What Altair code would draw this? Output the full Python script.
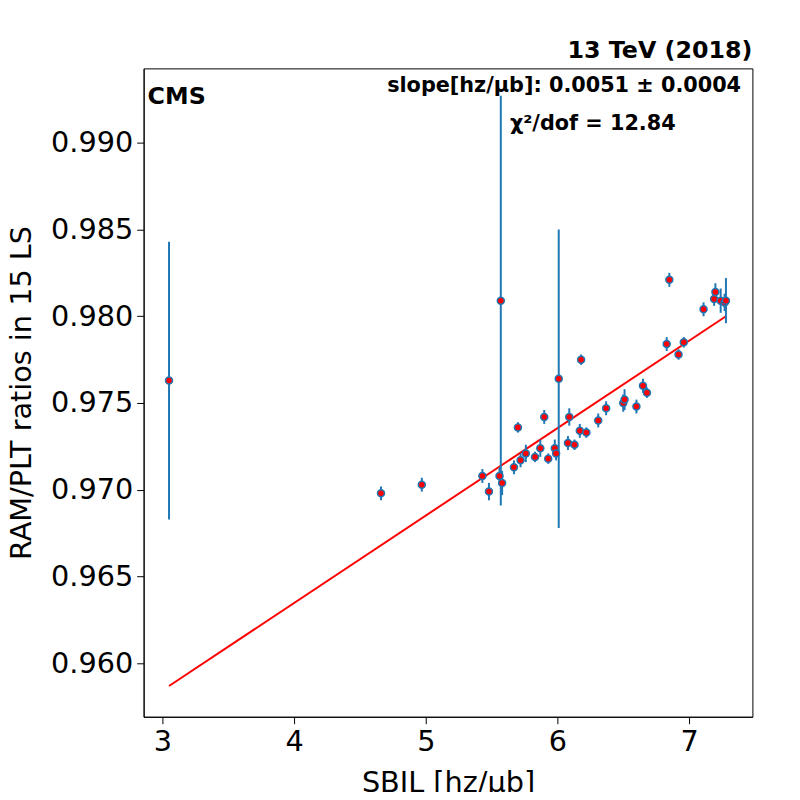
import altair as alt
import pandas as pd

BLUE = "#1f77b4"
RED = "#ff0000"

sbil = [3.05, 4.66, 4.97, 5.43, 5.48, 5.56, 5.57, 5.58, 5.67, 5.70, 5.72, 5.76, 5.83,
        5.87, 5.90, 5.93, 5.98, 5.99, 6.01, 6.08, 6.09, 6.13, 6.17, 6.18, 6.22, 6.31,
        6.37, 6.50, 6.51, 6.60, 6.65, 6.68, 6.83, 6.85, 6.92, 6.96, 7.11, 7.19, 7.20,
        7.24, 7.27, 7.28]
ratio = [0.9763, 0.9698, 0.9703, 0.9708, 0.9699, 0.9708, 0.9809, 0.9704, 0.9713, 0.9736,
         0.9717, 0.9721, 0.9719, 0.9724, 0.9742, 0.9718, 0.9724, 0.9721, 0.9764, 0.9727,
         0.9742, 0.9726, 0.9734, 0.9775, 0.9733, 0.9740, 0.9747, 0.9750, 0.9752, 0.9748,
         0.9760, 0.9756, 0.9784, 0.9821, 0.9778, 0.9785, 0.9804, 0.9810, 0.9814, 0.9809,
         0.9808, 0.9809]
err = [0.0080, 0.0004, 0.0004, 0.0004, 0.0005, 0.0005, 0.0118, 0.0007, 0.0004, 0.0003,
       0.0004, 0.0005, 0.0003, 0.0005, 0.0004, 0.0003, 0.0005, 0.0004, 0.0086, 0.0004,
       0.0005, 0.0003, 0.0004, 0.0003, 0.0003, 0.0004, 0.0004, 0.0005, 0.0006, 0.0004,
       0.0004, 0.0003, 0.0004, 0.0004, 0.0003, 0.0003, 0.0004, 0.0004, 0.0005, 0.0007,
       0.0005, 0.0013]

fit_x = [3.05, 7.28]
fit_y = [0.9587, 0.9800]

df = pd.DataFrame({"sbil": sbil, "ratio": ratio, "err": err})
df["lo"] = df["ratio"] - df["err"]
df["hi"] = df["ratio"] + df["err"]
fit = pd.DataFrame({"sbil": fit_x, "ratio": fit_y})

xs = alt.Scale(domain=[2.857, 7.481], nice=False, zero=False)
ys = alt.Scale(domain=[0.95693, 0.99428], nice=False, zero=False)

common = dict(grid=False, labelFontSize=29, titleFontSize=29, tickSize=7,
              labelColor="black", titleColor="black", domainColor="black",
              tickColor="black", titleFontWeight="normal", labelPadding=4)
x_ax = alt.Axis(title="SBIL [hz/μb]", values=[3, 4, 5, 6, 7], format="d",
                titlePadding=12, **common)
y_ax = alt.Axis(title="RAM/PLT ratios in 15 LS",
                values=[0.960, 0.965, 0.970, 0.975, 0.980, 0.985, 0.990],
                format=".3f", titlePadding=14, **common)

bars = alt.Chart(df).mark_rule(color=BLUE, strokeWidth=2).encode(
    x=alt.X("sbil:Q", scale=xs, axis=x_ax),
    y=alt.Y("lo:Q", scale=ys, axis=y_ax),
    y2="hi:Q",
)
pts = alt.Chart(df).mark_point(filled=True, fill=RED, stroke=BLUE, strokeWidth=1.5,
                               size=50, opacity=1, shape="circle").encode(
    x=alt.X("sbil:Q", scale=xs), y=alt.Y("ratio:Q", scale=ys)
)
line = alt.Chart(fit).mark_line(color=RED, strokeWidth=2).encode(
    x=alt.X("sbil:Q", scale=xs), y=alt.Y("ratio:Q", scale=ys)
)

labels = pd.DataFrame({
    "t": ["13 TeV (2018)", "CMS", "slope[hz/μb]: 0.0051 ± 0.0004", "χ²/dof = 12.84"],
    "px": [615, 4, 246, 370],
    "py": [-17, 29, 18, 56],
    "fs": [24, 24, 21, 21],
    "al": ["right", "left", "left", "left"],
})
texts = []
for _, r in labels.iterrows():
    texts.append(
        alt.Chart(pd.DataFrame({"t": [r.t]})).mark_text(
            fontSize=int(r.fs), fontWeight="bold", align=r.al, baseline="middle",
            color="black", font="DejaVu Sans", clip=False,
        ).encode(x=alt.value(int(r.px)), y=alt.value(int(r.py)), text="t:N")
    )

chart = alt.layer(line, bars, pts, *texts).properties(
    width=615, height=655, autosize="none",
    padding={"left": 137, "top": 57, "right": 40, "bottom": 72},
).configure(font="DejaVu Sans").configure_view(stroke="black", strokeWidth=1)

chart.save("out.html", embed_options={"renderer": "svg", "actions": False})
